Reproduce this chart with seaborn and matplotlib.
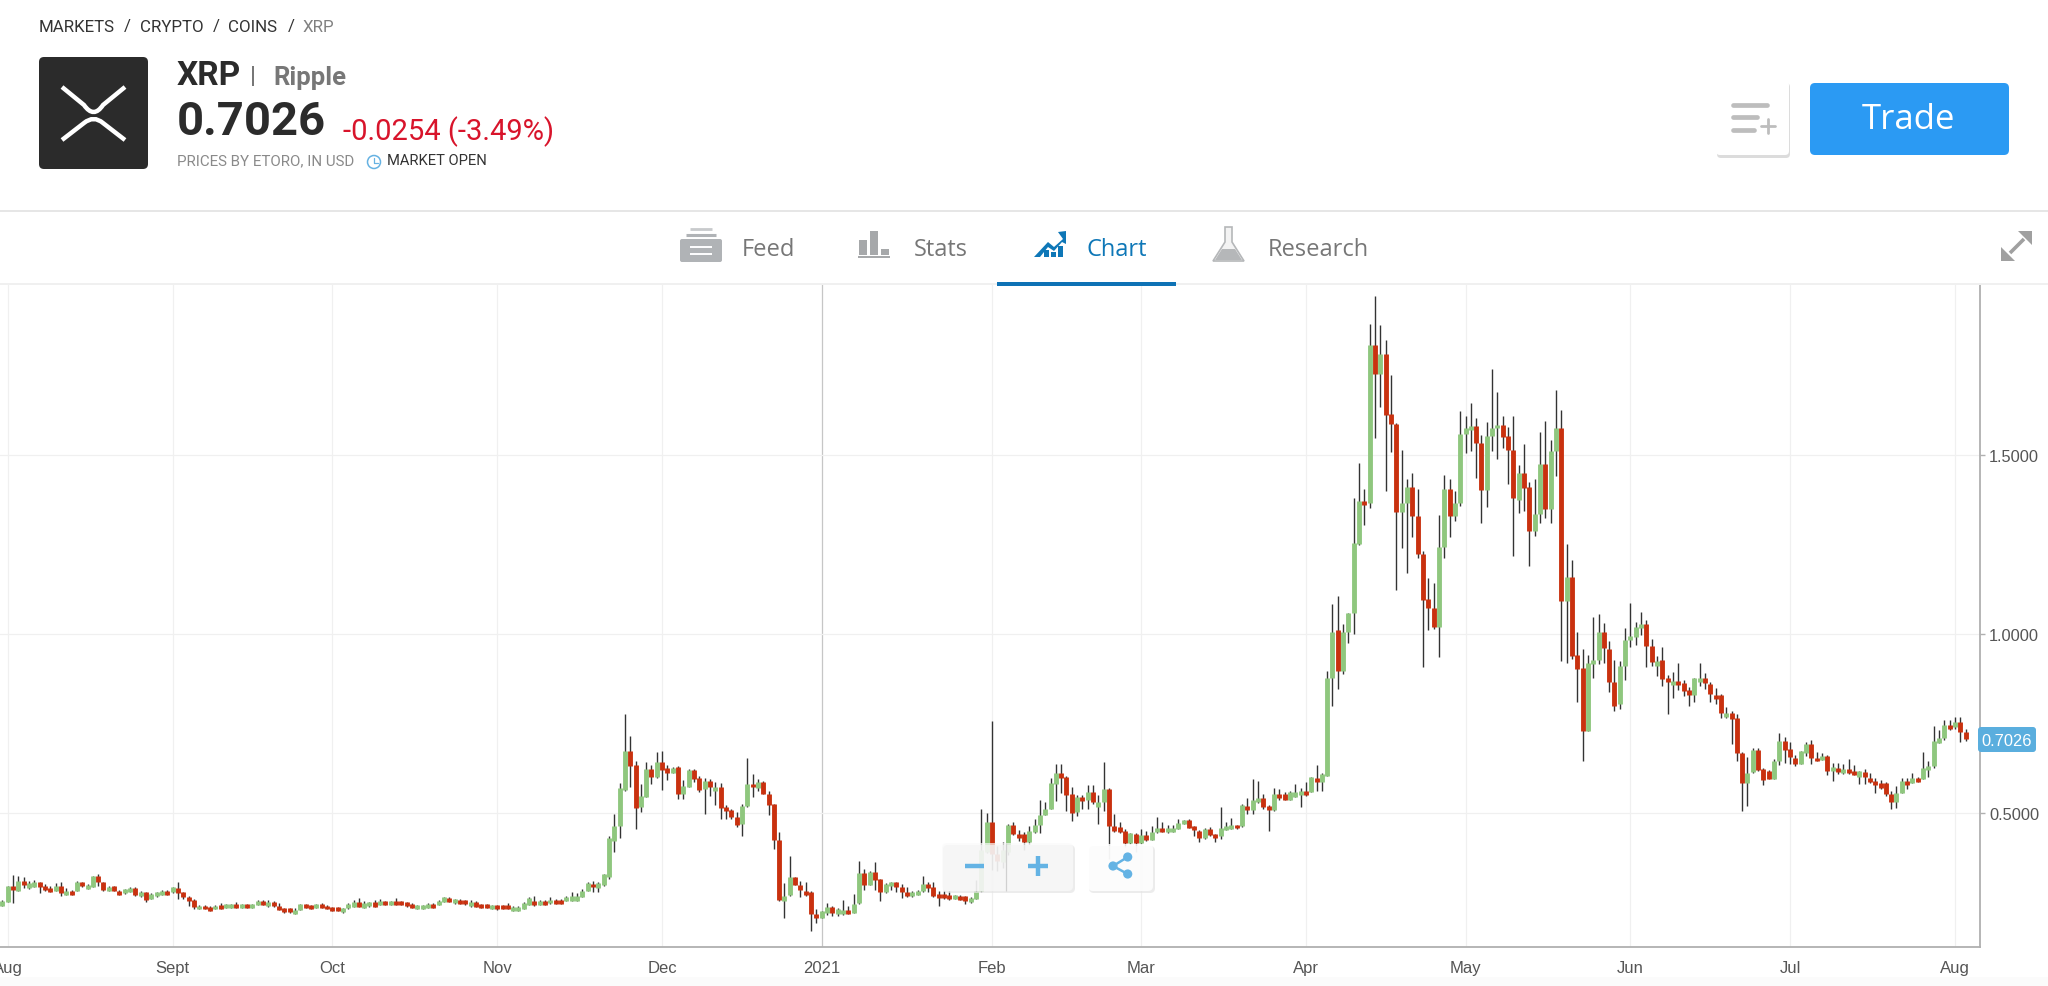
import pandas as pd
import matplotlib
matplotlib.use('Agg')
import matplotlib.pyplot as plt
from matplotlib.patches import FancyBboxPatch, Rectangle, Circle, Polygon, PathPatch
from matplotlib.path import Path
import seaborn as sns

# ── Data: one daily candle per entry, first one is the day before 1 Aug 2020 ──
opens = [
    .241, .252, .295, .283, .311, .290, .294, .306, .295, .290,
    .283, .295, .271, .283, .283, .306, .288, .294, .325, .306,
    .283, .295, .283, .276, .280, .290, .267, .278, .260, .267,
    .272, .283, .278, .290, .278, .266, .258, .232, .241, .238,
    .232, .243, .236, .236, .246, .236, .246, .236, .244, .254,
    .239, .250, .241, .234, .234, .219, .230, .246, .243, .235,
    .246, .241, .237, .237, .223, .234, .238, .250, .235, .239,
    .250, .243, .254, .244, .255, .254, .250, .247, .232, .232,
    .236, .247, .244, .252, .263, .248, .258, .256, .239, .250,
    .246, .246, .232, .242, .242, .243, .227, .227,
    .232, .244, .255, .243, .255, .248, .258, .258, .254, .255,
    .254, .266, .283, .303, .290, .299, .322, .423, .465, .565,
    .672, .635, .516, .546, .623, .602, .643, .625, .612, .628,
    .553, .574, .620, .599, .567, .590, .562, .573, .518, .508,
    .488, .469, .520, .582, .570, .586, .553, .524, .425, .255,
    .271, .320, .300, .283, .280, .218, .207, .222, .238, .218,
    .218, .230, .222, .248, .332, .299, .336, .315, .278, .295,
    .306, .292, .278, .267, .272, .281, .303, .294, .274, .274,
    .271, .260, .269, .267, .250, .260, .283, .390, .476, .385,
    .362, .392, .466, .441, .441, .418, .446, .467, .495, .511,
    .582, .612, .602, .553, .502, .545, .536, .558, .516, .530,
    .567, .463, .460, .451, .416, .441, .415, .439, .425, .446,
    .459, .446, .448, .455, .469, .480, .463, .451, .430, .455,
    .441, .435, .453, .455, .466, .463, .520, .509, .530, .541,
    .520, .509, .553, .553, .536, .546, .549, .562, .560, .598,
    .586, .604, .877, 1.012, .897, 1.007, 1.059, 1.251, 1.372, 1.366,
    1.807, 1.726, 1.782, 1.614, 1.588, 1.340, 1.365, 1.410, 1.331, 1.225,
    1.098, 1.074, 1.020, 1.242, 1.405, 1.329, 1.365, 1.558, 1.571, 1.582,
    1.533, 1.403, 1.552, 1.575, 1.585, 1.553, 1.515, 1.374, 1.450, 1.410,
    1.289, 1.335, 1.475, 1.349, 1.512, 1.577, 1.093, 1.160, .942, .905,
    .730, .916, .927, 1.005, .958, .865, .804, .911, .983, .993,
    1.017, 1.028, .967, .911, .927, .877, .857, .868, .862, .844,
    .830, .865, .877, .860, .830, .830, .767, .779, .766, .669,
    .584, .615, .677, .623, .618, .595, .644, .700, .679, .655,
    .637, .669, .692, .655, .648, .660, .616, .627, .611, .623,
    .618, .602, .615, .598, .590, .583, .583, .553, .530, .556,
    .590, .584, .599, .595, .620, .632, .697, .709, .747, .739,
    .753, .725,
]
highs = [
    .256, .296, .327, .323, .320, .311, .314, .308, .302, .297,
    .304, .306, .290, .285, .310, .308, .302, .325, .330, .308,
    .295, .297, .285, .289, .293, .292, .283, .280, .276, .280,
    .285, .285, .294, .306, .280, .268, .260, .242, .242, .240,
    .243, .248, .247, .247, .252, .247, .247, .247, .256, .256,
    .256, .255, .248, .235, .235, .235, .247, .247, .244, .247,
    .249, .242, .238, .238, .235, .248, .258, .262, .253, .252,
    .257, .260, .255, .255, .262, .255, .251, .248, .244, .244,
    .248, .248, .256, .265, .264, .261, .259, .257, .257, .255,
    .247, .247, .244, .243, .243, .248, .239, .239,
    .250, .265, .269, .256, .256, .264, .259, .259, .267, .280,
    .276, .288, .307, .311, .306, .331, .436, .498, .583, .777,
    .716, .645, .581, .643, .634, .670, .674, .634, .628, .630,
    .592, .622, .622, .604, .597, .595, .586, .584, .522, .511,
    .502, .525, .654, .609, .595, .590, .562, .526, .448, .304,
    .379, .322, .309, .306, .282, .232, .227, .248, .240, .236,
    .257, .241, .274, .367, .344, .338, .362, .317, .304, .306,
    .306, .302, .294, .281, .284, .325, .308, .306, .283, .283,
    .283, .272, .271, .268, .264, .312, .511, .501, .756, .409,
    .418, .468, .476, .453, .448, .464, .484, .537, .530, .597,
    .637, .637, .604, .572, .550, .551, .577, .577, .551, .642,
    .569, .496, .476, .455, .445, .443, .454, .449, .463, .488,
    .476, .466, .466, .482, .481, .482, .464, .453, .459, .461,
    .442, .516, .476, .485, .467, .524, .542, .594, .589, .552,
    .522, .570, .568, .560, .562, .580, .570, .586, .602, .633,
    .611, .896, 1.084, 1.105, 1.027, 1.059, 1.380, 1.478, 1.404, 1.867,
    1.945, 1.863, 1.822, 1.724, 1.590, 1.513, 1.432, 1.449, 1.404, 1.231,
    1.157, 1.142, 1.334, 1.444, 1.433, 1.401, 1.622, 1.609, 1.646, 1.604,
    1.555, 1.593, 1.741, 1.675, 1.608, 1.579, 1.608, 1.472, 1.530, 1.425,
    1.432, 1.564, 1.594, 1.543, 1.682, 1.625, 1.252, 1.207, 1.005, .957,
    .941, 1.047, 1.055, 1.031, .981, .928, .924, 1.018, 1.088, 1.035,
    1.063, 1.039, .985, .940, .965, .885, .895, .920, .872, .851,
    .878, .920, .892, .865, .850, .832, .797, .784, .776, .671,
    .657, .681, .683, .627, .620, .652, .724, .711, .699, .663,
    .674, .699, .703, .671, .668, .661, .640, .640, .637, .650,
    .633, .618, .623, .613, .597, .593, .587, .562, .576, .598,
    .597, .612, .602, .671, .645, .744, .733, .759, .759, .769,
    .767, .735,
]
lows = [
    .240, .250, .249, .281, .290, .289, .293, .277, .283, .278,
    .282, .269, .270, .271, .282, .294, .287, .293, .297, .281,
    .282, .281, .271, .275, .279, .269, .266, .252, .259, .266,
    .271, .270, .277, .260, .260, .241, .232, .231, .231, .225,
    .231, .231, .235, .235, .235, .235, .234, .235, .243, .243,
    .238, .238, .229, .222, .222, .218, .229, .234, .231, .234,
    .234, .231, .226, .226, .222, .233, .237, .237, .234, .238,
    .237, .242, .243, .243, .243, .243, .238, .234, .231, .231,
    .235, .234, .243, .251, .250, .247, .246, .244, .238, .237,
    .234, .234, .231, .230, .231, .231, .226, .226,
    .231, .243, .241, .242, .242, .247, .246, .246, .253, .254,
    .253, .265, .281, .280, .280, .297, .315, .391, .429, .562,
    .572, .454, .503, .545, .581, .598, .564, .592, .611, .539,
    .539, .572, .588, .559, .497, .548, .522, .483, .483, .483,
    .460, .437, .518, .546, .562, .553, .494, .399, .253, .207,
    .269, .298, .266, .269, .171, .192, .206, .216, .211, .211,
    .215, .217, .221, .247, .286, .298, .286, .253, .277, .285,
    .280, .262, .266, .266, .271, .280, .278, .265, .239, .261,
    .258, .259, .257, .246, .249, .259, .280, .388, .340, .339,
    .345, .382, .438, .421, .396, .413, .443, .443, .494, .510,
    .534, .555, .506, .478, .491, .512, .512, .525, .470, .505,
    .371, .448, .444, .405, .414, .392, .413, .421, .424, .445,
    .447, .445, .447, .454, .468, .457, .437, .418, .428, .437,
    .419, .427, .452, .454, .456, .462, .497, .497, .528, .510,
    .449, .507, .535, .535, .535, .545, .518, .548, .559, .561,
    .561, .603, .799, .847, .889, .975, 1.001, 1.250, 1.306, 1.351,
    1.548, 1.634, 1.401, 1.510, 1.122, 1.241, 1.170, 1.270, 1.213, .908,
    1.010, 1.015, .936, 1.212, 1.270, 1.315, 1.359, 1.506, 1.511, 1.437,
    1.311, 1.355, 1.512, 1.490, 1.520, 1.420, 1.218, 1.338, 1.345, 1.190,
    1.275, 1.310, 1.325, 1.310, 1.442, .926, .918, .929, .810, .646,
    .730, .876, .915, .920, .839, .786, .790, .872, .965, .970,
    .998, .909, .912, .883, .855, .778, .822, .845, .827, .798,
    .809, .855, .847, .811, .805, .766, .766, .692, .646, .507,
    .520, .613, .618, .577, .594, .594, .635, .641, .638, .630,
    .636, .660, .638, .644, .647, .605, .589, .610, .610, .610,
    .605, .580, .580, .584, .556, .567, .548, .512, .514, .555,
    .567, .583, .586, .594, .600, .625, .695, .703, .733, .735,
    .699, .700,
]
closes = [
    .255, .295, .284, .311, .300, .304, .306, .292, .284, .280,
    .297, .276, .283, .272, .308, .295, .300, .323, .308, .286,
    .294, .283, .272, .287, .291, .271, .280, .258, .274, .278,
    .283, .272, .292, .276, .266, .255, .238, .241, .232, .227,
    .241, .232, .246, .246, .236, .246, .235, .246, .255, .244,
    .250, .239, .230, .223, .223, .230, .246, .235, .232, .246,
    .235, .232, .227, .227, .234, .247, .250, .238, .248, .251,
    .238, .255, .244, .254, .244, .244, .239, .235, .243, .243,
    .247, .235, .255, .264, .251, .260, .247, .245, .252, .238,
    .235, .235, .243, .231, .232, .232, .238, .238,
    .248, .262, .243, .255, .243, .258, .247, .247, .265, .267,
    .267, .283, .304, .292, .304, .329, .430, .463, .571, .672,
    .632, .514, .548, .623, .602, .643, .620, .612, .626, .553,
    .576, .620, .595, .565, .590, .572, .574, .513, .506, .488,
    .467, .520, .581, .572, .586, .554, .522, .424, .258, .269,
    .320, .300, .285, .272, .218, .206, .225, .238, .222, .232,
    .230, .218, .246, .332, .299, .336, .313, .280, .302, .306,
    .292, .280, .267, .280, .283, .303, .290, .269, .262, .262,
    .260, .271, .258, .255, .263, .283, .398, .476, .385, .367,
    .398, .466, .440, .430, .418, .450, .466, .494, .511, .583,
    .612, .599, .550, .500, .546, .533, .558, .530, .530, .567,
    .465, .451, .448, .416, .443, .415, .438, .425, .446, .459,
    .448, .458, .458, .471, .480, .459, .452, .430, .455, .439,
    .430, .458, .463, .467, .457, .522, .509, .536, .541, .518,
    .509, .553, .541, .537, .558, .558, .562, .550, .600, .586,
    .609, .877, 1.007, .897, 1.007, 1.059, 1.253, 1.372, 1.361, 1.807,
    1.726, 1.782, 1.612, 1.588, 1.340, 1.365, 1.410, 1.329, 1.223, 1.095,
    1.074, 1.020, 1.242, 1.405, 1.329, 1.365, 1.560, 1.577, 1.582, 1.533,
    1.403, 1.552, 1.577, 1.585, 1.551, 1.515, 1.379, 1.450, 1.408, 1.289,
    1.335, 1.475, 1.349, 1.512, 1.577, 1.091, 1.160, .939, .902, .730,
    .919, .927, 1.005, .960, .867, .800, .910, .983, .995, 1.020,
    1.028, .967, .923, .925, .874, .865, .870, .857, .842, .830,
    .877, .877, .862, .832, .818, .779, .779, .764, .669, .584,
    .613, .676, .620, .593, .595, .644, .700, .677, .657, .637,
    .672, .692, .653, .646, .660, .616, .629, .615, .623, .612,
    .607, .616, .600, .586, .579, .570, .553, .530, .556, .590,
    .578, .598, .587, .625, .632, .700, .709, .747, .735, .753,
    .725, .707,
]

# candle index of each month start, the axis skips nothing but is not evenly spaced
month_ticks = [0, 31, 61, 92, 123, 153, 185, 213, 244, 274, 305, 335, 366]
month_labels = ["Aug", "Sept", "Oct", "Nov", "Dec", "2021", "Feb", "Mar", "Apr", "May", "Jun", "Jul", "Aug"]
price_ticks = [0.5, 1.0, 1.5]
last_price = 0.7026

W, H = 2048, 987
GREEN, RED, WICK = "#8fc77e", "#c9310f", "#333333"
LIGHT_BLUE = "#64b3e4"
HEAD = ["Roboto"]

sns.set_theme(style="white")
plt.rcParams["font.family"] = ["Liberation Sans", "DejaVu Sans"]

candles = pd.DataFrame({"open": opens, "high": highs, "low": lows, "close": closes})
candles["n"] = range(-1, len(candles) - 1)
candles["dir"] = ["up" if c >= o else "down" for o, c in zip(candles["open"], candles["close"])]

wicks = candles.melt(id_vars="n", value_vars=["high", "low"], value_name="price")
bodies = candles.melt(id_vars=["n", "dir"], value_vars=["open", "close"], value_name="price")

fig = plt.figure(figsize=(W / 100, H / 100), dpi=100, facecolor="white")
ax = fig.add_axes([0, (H - 947.7) / H, 1980 / W, (947.7 - 285) / H])

# ── Candles ──────────────────────────────────────────────────────────────────
sns.lineplot(data=wicks, x="n", y="price", units="n", estimator=None, color=WICK,
             lw=1.0, solid_capstyle="butt", legend=False, ax=ax, zorder=3)
sns.lineplot(data=bodies, x="n", y="price", units="n", estimator=None, hue="dir",
             palette={"up": GREEN, "down": RED}, lw=3.5, solid_capstyle="butt",
             legend=False, ax=ax, zorder=4)

ax.set_xlim(-1.447, 370.7)
ax.set_ylim(0.1265, 1.978)
ax.set_xlabel("")
ax.set_ylabel("")
ax.set_xticks(month_ticks, month_labels)
ax.set_yticks(price_ticks, [f"{p:.4f}" for p in price_ticks])
ax.yaxis.tick_right()
ax.tick_params(axis="x", length=5.5, width=1, color="#b0b0b0", labelsize=12, labelcolor="#555555", pad=4)
ax.tick_params(axis="y", length=3.5, width=1, color="#b0b0b0", labelsize=11.8, labelcolor="#555555", pad=3,
               left=False, right=True)
ax.grid(True, color="#f0f0f0", lw=0.9)
ax.set_axisbelow(True)
ax.get_xgridlines()[5].set_color("#c6c6c6")
for side in ["top", "left"]:
    ax.spines[side].set_visible(False)
for side in ["right", "bottom"]:
    ax.spines[side].set_color("#b0b0b0")
    ax.spines[side].set_linewidth(1.3)

# ── Page around the chart, drawn in pixel coordinates ────────────────────────
page = fig.add_axes([0, 0, 1, 1], zorder=5)
page.set_xlim(0, W)
page.set_ylim(H, 0)
page.axis("off")
page.patch.set_alpha(0)


def box(x0, y0, x1, y1, color, r=4, **kw):
    page.add_patch(FancyBboxPatch((x0 + r, y0 + r), x1 - x0 - 2 * r, y1 - y0 - 2 * r,
                                  boxstyle=f"round,pad={r},rounding_size={r}", fc=color, ec="none", **kw))


def bar(x0, y0, x1, y1, color):
    page.add_patch(Rectangle((x0, y0), x1 - x0, y1 - y0, fc=color, ec="none"))


def line(xs, ys, color, lw=2.0, cap="round"):
    page.plot(xs, ys, color=color, lw=lw, solid_capstyle=cap)


def label(x, y, s, size, color, family=HEAD, ha="left", weight="normal"):
    page.text(x, y, s, fontsize=size, color=color, family=family, ha=ha, va="center", weight=weight)


bar(0, 978, W, H, "#fbfbfb")

# breadcrumb
for x, s, c in [(39, "MARKETS", "#333333"), (124, "/", "#333333"), (140, "CRYPTO", "#333333"),
                (213, "/", "#333333"), (228, "COINS", "#333333"), (288, "/", "#333333"), (303, "XRP", "#808080")]:
    label(x, 27, s, 12.2, c)

# logo
box(39, 58, 148, 170, "#2b2b2b", r=5)
for pts in [[(62, 88), (84, 106), (93.7, 120), (103, 106), (125, 88)],
            [(62, 141), (84, 124), (93.7, 116), (103, 124), (125, 141)]]:
    path = Path(pts, [Path.MOVETO, Path.LINETO, Path.CURVE3, Path.CURVE3, Path.LINETO])
    page.add_patch(PathPatch(path, fc="none", ec="white", lw=3.2))

# title block
label(177, 76, "XRP", 24, "#2b2b2b", weight="bold")
label(250, 77, "|", 17, "#777777", weight="bold")
label(273, 78, "Ripple", 18.5, "#777777", weight="bold")
label(177, 122, "0.7026", 34, "#2b2b2b", weight="bold")
label(343, 132, "-0.0254 (-3.49%)", 21, "#d8142b")
label(177, 161, "PRICES BY ETORO, IN USD", 10.9, "#8a8a8a")
page.add_patch(Circle((374, 163), 6.5, fc="none", ec="#66b2e2", lw=1.1))
line([374, 374, 378], [159, 164, 164], "#66b2e2", lw=0.9)
label(387, 161, "MARKET OPEN", 10.6, "#333333")

# watchlist and trade buttons
box(1717, 84, 1790, 159, "#dcdcdc", r=4)
box(1716, 82, 1789, 156, "white", r=4)
for x1, y in [(1767, 106), (1757, 118), (1754, 131)]:
    line([1733, x1], [y, y], "#bdbdbd", lw=3.4)
line([1761, 1775], [127, 127], "#bdbdbd", lw=2)
line([1768, 1768], [120, 134], "#bdbdbd", lw=2)
box(1810, 84, 2009, 156, "#2b9af3", r=5)
label(1909, 120, "Trade", 25, "white", family=["Open Sans"], ha="center")

# tab bar
bar(0, 211, W, 213, "#e6e6e6")
bar(0, 284, W, 285.5, "#f0f0f0")
bar(997, 283, 1176, 287, "#0e72b5")
TAB_GREY = "#b0b3b6"
box(680, 240, 722, 263, TAB_GREY, r=2)
line([686, 716], [236, 236], TAB_GREY, lw=2.2, cap="butt")
line([690, 712], [230, 230], "#c8cacc", lw=2, cap="butt")
line([690, 712], [248, 248], "white", lw=1.4, cap="butt")
line([690, 712], [255, 255], "white", lw=1.4, cap="butt")
for x0, top in [(859, 241), (870, 232), (881, 250)]:
    bar(x0, top, x0 + 8, 256, "#a6a8aa")
bar(858, 257, 890, 259, "#a6a8aa")
page.add_patch(Polygon([(1034, 258), (1048, 243), (1054, 248), (1063, 240), (1058, 233), (1066, 232),
                        (1066, 245), (1062, 243), (1054, 252), (1048, 248), (1040, 258)], fc="#0e77b7", ec="none"))
for x0, top in [(1044, 251), (1051, 253), (1058, 247)]:
    bar(x0, top, x0 + 5, 258, "#0e77b7")
page.add_patch(Polygon([(1225, 228), (1232, 228), (1232, 243), (1244, 262), (1213, 262), (1225, 243)],
                       fc="#f3f3f3", ec="#b5b7b9", lw=1.2))
page.add_patch(Polygon([(1222, 250), (1235, 250), (1242, 261), (1215, 261)], fc="#b5b7b9", ec="none"))
label(742, 249.5, "Feed", 17, "#777777", family=["Open Sans"])
label(914, 249.5, "Stats", 17, "#777777", family=["Open Sans"])
label(1087, 249.5, "Chart", 17, "#0e77b7", family=["Open Sans"])
label(1268, 249.5, "Research", 17, "#777777", family=["Open Sans"])

# expand icon
line([2010, 2024], [254, 240], "#a0a0a0", lw=2.6, cap="butt")
page.add_patch(Polygon([(2032, 232), (2032, 246), (2018, 232)], fc="#a0a0a0", ec="none"))
page.add_patch(Polygon([(2001, 262), (2001, 248), (2015, 262)], fc="#a0a0a0", ec="none"))

# zoom and share buttons over the chart
box(943, 846, 1075, 894, "#e4e4e4", r=5, alpha=0.7)
box(942, 844, 1073, 892, "#fafafa", r=5, alpha=0.72)
box(1089, 847, 1155, 894, "#e4e4e4", r=5, alpha=0.7)
box(1088, 845, 1153, 892, "white", r=5, alpha=0.85)
line([1006, 1006], [844, 892], "#d0d0d0", lw=0.9, cap="butt")
line([965, 984], [867, 867], LIGHT_BLUE, lw=3.2, cap="butt")
line([1028, 1048], [867, 867], LIGHT_BLUE, lw=3.2, cap="butt")
line([1038, 1038], [857, 877], LIGHT_BLUE, lw=3.2, cap="butt")
line([1127.7, 1113, 1127.7], [858, 867, 875], LIGHT_BLUE, lw=1.8)
for cx, cy in [(1127.7, 858), (1113, 867), (1127.7, 875)]:
    page.add_patch(Circle((cx, cy), 4.6, fc=LIGHT_BLUE, ec="none"))

# last price tag
box(1978, 728, 2036, 753, "#5aaede", r=3)
label(2007, 741, f"{last_price:.4f}", 11.8, "white", family=["Liberation Sans"], ha="center")

fig.savefig("out.png", dpi=100)
